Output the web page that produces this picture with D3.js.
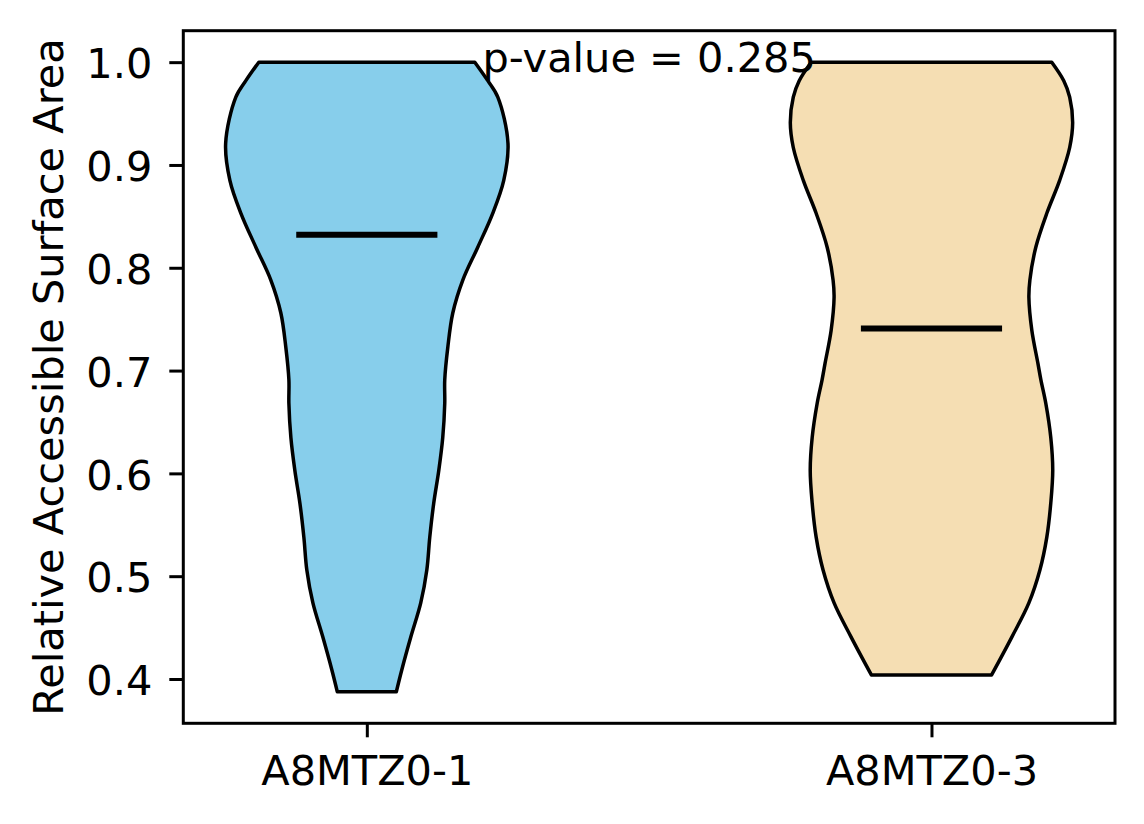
<!DOCTYPE html>
<html>
<head>
<meta charset="utf-8">
<script src="https://cdn.jsdelivr.net/npm/d3@7"></script>
<style>
  body { margin: 0; background: #fff; }
  text { font-family: "DejaVu Sans", sans-serif; }
</style>
</head>
<body>
<div class="graphContainer"></div>
<script>
// categories and their x positions
var categories = ["A8MTZ0-1", "A8MTZ0-3"];
var positions = [1, 2];
var colors = ["#87CEEB", "#F5DEB3"];

// violin outlines: value levels and relative half-width (1 = widest)
var levels1 = [1.0, 0.982, 0.966, 0.921, 0.885, 0.853, 0.820, 0.788, 0.756, 0.723, 0.691,
               0.668, 0.635, 0.603, 0.571, 0.538, 0.506, 0.474, 0.441, 0.409, 0.3875];
var density1 = [0.765, 0.857, 0.928, 1.0, 0.97, 0.892, 0.786, 0.68, 0.609, 0.574, 0.552,
                0.552, 0.538, 0.51, 0.474, 0.446, 0.425, 0.382, 0.312, 0.248, 0.209];

var levels2 = [1.0, 0.982, 0.966, 0.941, 0.917, 0.885, 0.853, 0.820, 0.788, 0.771, 0.739,
               0.707, 0.691, 0.668, 0.635, 0.603, 0.571, 0.538, 0.506, 0.474, 0.441, 0.404];
var density2 = [0.852, 0.937, 0.979, 1.0, 0.979, 0.908, 0.817, 0.739, 0.697, 0.69, 0.711,
                0.754, 0.775, 0.81, 0.845, 0.859, 0.845, 0.817, 0.768, 0.69, 0.57, 0.426];

var means = [0.832, 0.741];
var yTicks = [0.4, 0.5, 0.6, 0.7, 0.8, 0.9, 1.0];
var pLabel = "p-value = 0.285";

var violins = [
    { levels: levels1, density: density1 },
    { levels: levels2, density: density2 }
];

var W = 1144, H = 824;
var axLeft = 183.3, axRight = 1115, axTop = 30.7, axBottom = 723.3;
var violinWidth = 0.5;
var fontSize = "41.5px";

var x = d3.scaleLinear().domain([0.675, 2.325]).range([axLeft, axRight]);
var y = d3.scaleLinear().domain([0.3569, 1.0306]).range([axBottom, axTop]);

var svg = d3.select(".graphContainer")
    .append("svg")
    .attr("width", W)
    .attr("height", H);

// violins
violins.forEach(function (v, i) {
    var pts = v.levels.map(function (d, j) { return { v: d, w: v.density[j] }; });
    var half = function (d) { return d.w * violinWidth / 2; };
    var area = d3.area()
        .curve(d3.curveCatmullRom)
        .y(function (d) { return y(d.v); })
        .x0(function (d) { return x(positions[i] - half(d)); })
        .x1(function (d) { return x(positions[i] + half(d)); });

    svg.append("path")
        .datum(pts)
        .attr("d", area)
        .attr("fill", colors[i])
        .attr("stroke", "#000")
        .attr("stroke-width", 3.5)
        .attr("stroke-linejoin", "round");

    svg.append("line")
        .attr("x1", x(positions[i] - violinWidth / 4))
        .attr("x2", x(positions[i] + violinWidth / 4))
        .attr("y1", y(means[i]))
        .attr("y2", y(means[i]))
        .attr("stroke", "#000")
        .attr("stroke-width", 6);
});

// axes
var yAxis = d3.axisLeft(y)
    .tickValues(yTicks)
    .tickFormat(d3.format(".1f"))
    .tickSize(14)
    .tickPadding(17);

var xAxis = d3.axisBottom(x)
    .tickValues(positions)
    .tickFormat(function (d, i) { return categories[i]; })
    .tickSize(14)
    .tickPadding(18);

var gy = svg.append("g")
    .attr("transform", "translate(" + axLeft + ",0)")
    .call(yAxis);
gy.selectAll("text").attr("dy", "0.38em");

var gx = svg.append("g")
    .attr("transform", "translate(0," + axBottom + ")")
    .call(xAxis);

[gx, gy].forEach(function (g) {
    g.select(".domain").remove();
    g.selectAll("line").attr("stroke", "#000").attr("stroke-width", 3);
    g.selectAll("text").attr("fill", "#000").style("font-size", fontSize)
        .style("font-family", "'DejaVu Sans', sans-serif");
});

// frame
svg.append("rect")
    .attr("x", axLeft)
    .attr("y", axTop)
    .attr("width", axRight - axLeft)
    .attr("height", axBottom - axTop)
    .attr("fill", "none")
    .attr("stroke", "#000")
    .attr("stroke-width", 3);

// y label
svg.append("text")
    .attr("transform", "translate(63," + (axTop + axBottom) / 2 + ") rotate(-90)")
    .attr("text-anchor", "middle")
    .style("font-size", fontSize)
    .text("Relative Accessible Surface Area");

// p-value annotation
svg.append("text")
    .attr("x", x(1.5))
    .attr("y", y(1.0))
    .attr("dy", "0.23em")
    .attr("text-anchor", "middle")
    .style("font-size", fontSize)
    .text(pLabel);
</script>
</body>
</html>
